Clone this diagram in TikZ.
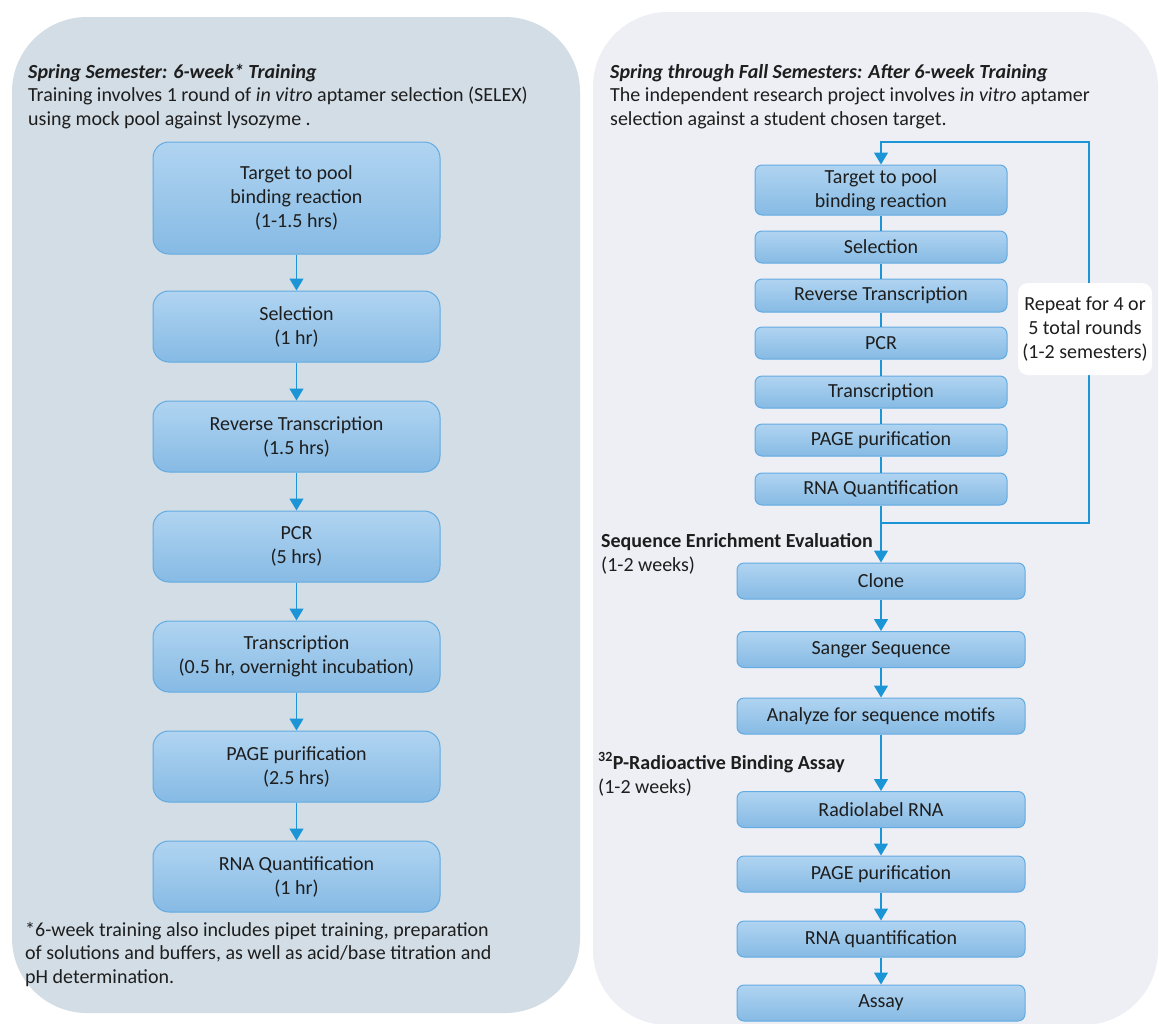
\documentclass[tikz,border=0pt]{standalone}
\usepackage{fontspec}
\setmainfont{Carlito}
\usetikzlibrary{arrows.meta}
\definecolor{lpanel}{HTML}{D2DDE6}
\definecolor{rpanel}{HTML}{EEEFF4}
\definecolor{boxtop}{HTML}{B0D4F1}
\definecolor{boxbot}{HTML}{86BAE4}
\definecolor{boxline}{HTML}{62AAE2}
\definecolor{arrc}{HTML}{1B95D6}
\definecolor{txt}{HTML}{1E1E1E}
\newcommand\fbody{\fontsize{20}{24}\selectfont}
\begin{document}
\begin{tikzpicture}[x=1pt,y=-1pt,
  every node/.style={text=txt, font=\fbody},
  lbox/.style={draw=boxline, line width=1pt, rounded corners=16pt, top color=boxtop, bottom color=boxbot,
    minimum width=287pt, inner sep=0pt, align=center},
  rbox/.style={draw=boxline, line width=1pt, rounded corners=7pt, top color=boxtop, bottom color=boxbot,
    inner sep=0pt, align=center},
  rtop/.style={rbox, minimum width=252pt},
  rbot/.style={rbox, minimum width=288pt, minimum height=36pt},
  lbl/.style={anchor=base west, inner sep=0pt},
  arr/.style={draw=arrc, line width=1.2pt, -{Triangle[width=14pt,length=12pt]}},
  conn/.style={draw=arrc, line width=1.2pt},
]
\useasboundingbox (0,0) rectangle (1159,1023);
\clip (0,0) rectangle (1159,1023);
\fill[white] (0,0) rectangle (1159,1023);
% panels
\fill[lpanel, rounded corners=75pt] (12,17) rectangle (580,1013);
\fill[rpanel, rounded corners=75pt] (593,12) rectangle (1158,1025);

% left headings
\node[lbl] (lt1) at (28,78) {\textbf{\textit{Spring Semester: 6-week* Training}}};
\node[lbl] (lt2) at (28,101.5) {Training involves 1 round of \textit{in vitro} aptamer selection (SELEX)};
\node[lbl] (lt3) at (28,125) {using mock pool against lysozyme .};

% left boxes
\node[lbox, minimum height=112pt] (l1) at (296.5,198) {Target to pool\\binding reaction\\(1-1.5 hrs)};
\node[lbox, minimum height=71pt] (l2) at (296.5,326.5) {Selection\\(1 hr)};
\node[lbox, minimum height=71pt] (l3) at (296.5,436.5) {Reverse Transcription\\(1.5 hrs)};
\node[lbox, minimum height=71pt] (l4) at (296.5,546.5) {PCR\\(5 hrs)};
\node[lbox, minimum height=71pt] (l5) at (296.5,656.5) {Transcription\\(0.5 hr, overnight incubation)};
\node[lbox, minimum height=71pt] (l6) at (296.5,766.5) {PAGE purification\\(2.5 hrs)};
\node[lbox, minimum height=71pt] (l7) at (296.5,876.5) {RNA Quantification\\(1 hr)};
\foreach \a/\b in {l1/l2,l2/l3,l3/l4,l4/l5,l5/l6,l6/l7}{\draw[arr] (\a) -- (\b);}

% footnote
\node[lbl] (fn1) at (25,936) {*6-week training also includes pipet training, preparation};
\node[lbl] (fn2) at (25,959.5) {of solutions and buffers, as well as acid/base titration and};
\node[lbl] (fn3) at (25,983) {pH determination.};

% right headings
\node[lbl] (rt1) at (610,78) {\textbf{\textit{Spring through Fall Semesters: After 6-week Training}}};
\node[lbl] (rt2) at (610,101.5) {The independent research project involves \textit{in vitro} aptamer};
\node[lbl] (rt3) at (610,125) {selection against a student chosen target.};

% right top loop boxes
\node[rtop, minimum height=50pt] (r1) at (881,190) {Target to pool\\binding reaction};
\node[rtop, minimum height=32pt] (r2) at (881,247) {Selection};
\node[rtop, minimum height=33pt] (r3) at (881,295.5) {Reverse Transcription};
\node[rtop, minimum height=32pt] (r4) at (881,343) {PCR};
\node[rtop, minimum height=32pt] (r5) at (881,392) {Transcription};
\node[rtop, minimum height=32pt] (r6) at (881,440) {PAGE purification};
\node[rtop, minimum height=32pt] (r7) at (881,489) {RNA Quantification};
\foreach \a/\b in {r1/r2,r2/r3,r3/r4,r4/r5,r5/r6,r6/r7}{\draw[conn] (\a) -- (\b);}

% loop
\coordinate (lpA) at (881,523);
\coordinate (lpB) at (1089,523);
\coordinate (lpC) at (1089,142);
\coordinate (lpD) at (881,142);
\draw[arr] (lpA) -- (lpB) -- (lpC) -- (lpD) -- (r1.north);
\node[fill=white, rounded corners=10pt, minimum width=134pt, minimum height=92pt, inner sep=0pt, align=center] (rep) at (1085,329) {Repeat for 4 or\\5 total rounds\\(1-2 semesters)};

% section labels
\node[lbl] (s1) at (601,547) {\textbf{Sequence Enrichment Evaluation}};
\node[lbl] (s1b) at (601,571) {(1-2 weeks)};
\node[lbl] (s2) at (598,769) {\textbf{\textsuperscript{32}P-Radioactive Binding Assay}};
\node[lbl] (s2b) at (598,793) {(1-2 weeks)};

% right bottom boxes
\node[rbot] (b1) at (881,581) {Clone};
\node[rbot] (b2) at (881,649.5) {Sanger Sequence};
\node[rbot] (b3) at (881,716) {Analyze for sequence motifs};
\node[rbot] (b4) at (881,809.5) {Radiolabel RNA};
\node[rbot] (b5) at (881,874) {PAGE purification};
\node[rbot] (b6) at (881,939) {RNA quantification};
\node[rbot] (b7) at (881,1003) {Assay};
\draw[arr] (r7) -- (b1);
\foreach \a/\b in {b1/b2,b2/b3,b3/b4,b4/b5,b5/b6,b6/b7}{\draw[arr] (\a) -- (\b);}
\end{tikzpicture}
\end{document}
